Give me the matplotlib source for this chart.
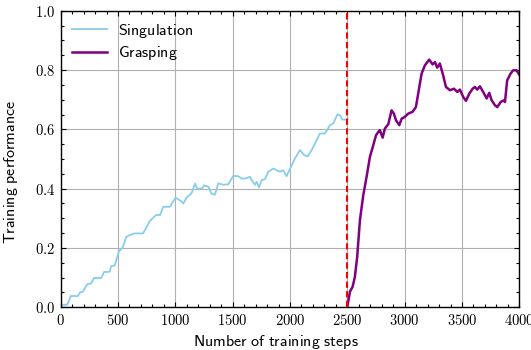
import matplotlib
matplotlib.use("Agg")
import matplotlib.pyplot as plt
from matplotlib.ticker import MultipleLocator, FixedLocator, FixedFormatter

plt.rcParams['mathtext.fontset'] = 'cm'

# Singulation curve (steps, performance)
sing_x = [0, 58, 87, 151, 166, 194, 232, 267, 290, 354, 378, 427, 441, 471, 506, 543, 572,
          602, 639, 718, 776, 831, 866, 895, 953, 997, 1003, 1055, 1069, 1099, 1142, 1171,
          1191, 1230, 1250, 1287, 1317, 1346, 1374, 1418, 1461, 1505, 1549, 1578, 1607,
          1651, 1666, 1694, 1709, 1729, 1753, 1782, 1810, 1854, 1884, 1912, 1941, 1970,
          2008, 2043, 2087, 2124, 2154, 2189, 2218, 2261, 2305, 2348, 2377, 2415, 2436,
          2456, 2494, 2505]
sing_y = [0.008, 0.009, 0.038, 0.038, 0.049, 0.053, 0.078, 0.081, 0.099, 0.099, 0.119, 0.120,
          0.139, 0.141, 0.187, 0.204, 0.238, 0.243, 0.249, 0.249, 0.290, 0.311, 0.311,
          0.339, 0.339, 0.367, 0.369, 0.357, 0.350, 0.370, 0.385, 0.417, 0.400, 0.400,
          0.411, 0.407, 0.382, 0.380, 0.418, 0.413, 0.415, 0.443, 0.442, 0.434, 0.434,
          0.440, 0.429, 0.413, 0.423, 0.404, 0.429, 0.432, 0.457, 0.468, 0.462, 0.457,
          0.462, 0.442, 0.473, 0.502, 0.530, 0.513, 0.509, 0.530, 0.552, 0.586, 0.586,
          0.614, 0.620, 0.651, 0.647, 0.633, 0.633, 0.635]

# Grasping curve (steps, performance)
grasp_x = [2500, 2523, 2546, 2566, 2586, 2610, 2639, 2668, 2697, 2726, 2750, 2770, 2784,
           2808, 2828, 2857, 2886, 2906, 2924, 2953, 2974, 3002, 3031, 3069, 3098, 3118,
           3148, 3177, 3214, 3244, 3264, 3284, 3307, 3336, 3360, 3395, 3430, 3459, 3482,
           3511, 3535, 3563, 3593, 3613, 3633, 3656, 3685, 3715, 3738, 3759, 3788, 3808,
           3837, 3866, 3875, 3894, 3924, 3947, 3976, 3999]
grasp_y = [0.002, 0.053, 0.069, 0.103, 0.170, 0.294, 0.378, 0.440, 0.507, 0.546, 0.580,
           0.591, 0.597, 0.572, 0.603, 0.617, 0.664, 0.653, 0.631, 0.614, 0.636, 0.642,
           0.653, 0.659, 0.675, 0.720, 0.788, 0.816, 0.835, 0.819, 0.827, 0.808, 0.822,
           0.782, 0.743, 0.732, 0.737, 0.726, 0.734, 0.709, 0.696, 0.720, 0.737, 0.743,
           0.734, 0.745, 0.726, 0.704, 0.723, 0.698, 0.681, 0.675, 0.692, 0.698, 0.692,
           0.765, 0.788, 0.799, 0.799, 0.785]

switch_step = 2500

x_ticks = [0, 500, 1000, 1500, 2000, 2500, 3000, 3500, 4000]
x_tick_labels = ['0', '500', '1000', '1500', '2000', '2500', '3000', '3500', '4000']
y_ticks = [0.0, 0.2, 0.4, 0.6, 0.8, 1.0]
y_tick_labels = ['0.0', '0.2', '0.4', '0.6', '0.8', '1.0']

fig = plt.figure(figsize=(5.31, 3.5), dpi=100)
ax = fig.add_axes([60.7 / 531, 1 - 307.3 / 350, (519.3 - 60.7) / 531, (307.3 - 10.7) / 350])

ax.plot(sing_x, sing_y, color='#87CEEB', lw=1.3, label=r'$\mathsf{Singulation}$')
ax.plot(grasp_x, grasp_y, color='#800080', lw=1.8, label=r'$\mathsf{Grasping}$')
ax.axvline(switch_step, color='red', ls='--', lw=1.5, dashes=(3, 1.6))

ax.set_xlim(0, 4000)
ax.set_ylim(0, 1.0)
ax.xaxis.set_major_locator(FixedLocator(x_ticks))
ax.xaxis.set_major_formatter(FixedFormatter(['$' + s + '$' for s in x_tick_labels]))
ax.yaxis.set_major_locator(FixedLocator(y_ticks))
ax.yaxis.set_major_formatter(FixedFormatter(['$' + s + '$' for s in y_tick_labels]))
ax.xaxis.set_minor_locator(MultipleLocator(100))
ax.yaxis.set_minor_locator(MultipleLocator(0.05))
ax.tick_params(which='both', direction='in', top=True, right=True, labelsize=10.5, width=0.8)
ax.tick_params(which='major', length=3.5, pad=4)
ax.tick_params(which='minor', length=2)
for s in ax.spines.values():
    s.set_linewidth(1.0)
ax.grid(True, which='major', color='#b0b0b0', lw=0.8)
ax.set_axisbelow(True)

ax.set_xlabel(r'$\mathsf{Number\ of\ training\ steps}$', fontsize=11.5)
ax.set_ylabel(r'$\mathsf{Training\ performance}$', fontsize=11.5)
ax.xaxis.set_label_coords(0.47, -0.085)
ax.yaxis.set_label_coords(-0.088, 0.458)

leg = ax.legend(loc='upper left', frameon=False, fontsize=11.5, handlelength=2.2,
                handletextpad=0.7, labelspacing=0.3, borderaxespad=0.0,
                bbox_to_anchor=(0.01, 0.985))

fig.savefig('out.png', dpi=100)
